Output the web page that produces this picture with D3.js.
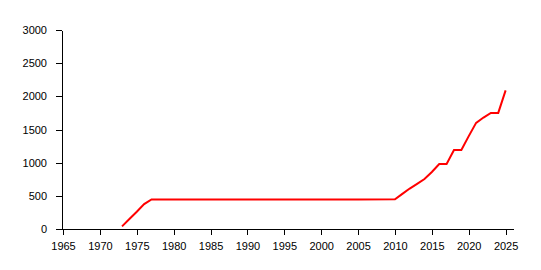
<!DOCTYPE html>
<html>
<head>
<meta charset="utf-8">
<script src="https://cdn.jsdelivr.net/npm/d3@7"></script>
<style>
body { margin: 0; background: #fff; }
svg { display: block; }
.axis text { font-family: "Liberation Sans", Arial, sans-serif; font-size: 11px; fill: #000; }
.axis path, .axis line { stroke: #000; shape-rendering: crispEdges; }
</style>
</head>
<body>
<svg width="541" height="270"></svg>
<script>
const svg = d3.select('svg');

// data
var years = [1973,1974,1975,1976,1977,1980,1985,1990,1995,2000,2005,2010,
             2011,2012,2013,2014,2015,2016,2017,2018,2019,2020,2021,2022,2023,2024,2025];
var values = [40,150,260,375,445,445,445,445,445,445,445,447,
              530,610,680,753,860,980,980,1190,1190,1400,1600,1680,1750,1750,2090];
var xTicks = [1965,1970,1975,1980,1985,1990,1995,2000,2005,2010,2015,2020,2025];
var yTicks = [0,500,1000,1500,2000,2500,3000];

var x = d3.scaleLinear().domain([1965, 2026]).range([63, 513]);
var y = d3.scaleLinear().domain([0, 3000]).range([229, 30]);

svg.append("g")
    .attr("class", "axis")
    .attr("transform", "translate(0,229)")
    .call(d3.axisBottom(x).tickValues(xTicks).tickFormat(d3.format("d")).tickSizeOuter(0).tickPadding(7));

svg.append("g")
    .attr("class", "axis")
    .attr("transform", "translate(62,0)")
    .call(d3.axisLeft(y).tickValues(yTicks).tickFormat(d3.format("d")).tickSizeOuter(0).tickPadding(9));

var line = d3.line()
    .x(function(d, i) { return x(years[i]); })
    .y(function(d) { return y(d); });

svg.append("path")
    .datum(values)
    .attr("d", line)
    .attr("fill", "none")
    .attr("stroke", "#f00")
    .attr("stroke-width", 2);
</script>
</body>
</html>
